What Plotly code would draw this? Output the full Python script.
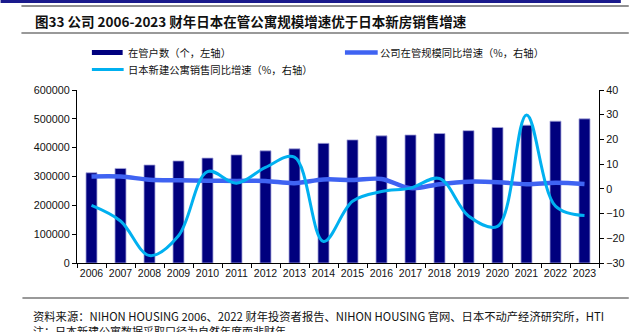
import plotly.graph_objects as go

years = [str(y) for y in range(2006, 2024)]
units = [313000, 328000, 340000, 354000, 364000, 375000, 389000, 396000, 415000,
         427000, 441000, 444000, 449000, 459000, 470000, 478000, 492000, 500000]
company_growth = [5.0, 5.0, 3.7, 3.5, 3.3, 3.2, 3.2, 2.3, 3.8,
                  3.6, 4.0, 0.3, 1.9, 2.9, 2.7, 1.9, 2.5, 2.0]
newsales_growth = [-6.7, -13.0, -27.0, -19.0, 7.0, 2.3, 8.7, 12.8, -21.3,
                   -5.0, -1.1, 0.3, 4.2, -11.0, -15.2, 29.9, -7.0, -10.8]

W, H = 637, 332
L, R, T, B = 77, 603, 90, 263
def px(x):
    return (x - L) / (R - L)
def py(y):
    return (B - y) / (B - T)

NUM = "Liberation Sans, Arial, sans-serif"
CJK = "Noto Sans CJK SC, sans-serif"
NAVY = "#00007E"
BLUE = "#3F63F2"
CYAN = "#00B0F0"

fig = go.Figure()
fig.add_trace(go.Bar(x=years, y=units, name="在管户数（个，左轴）",
                     marker=dict(color=NAVY, line=dict(color="#A8A8DC", width=0.8)),
                     width=0.38, showlegend=False))
fig.add_trace(go.Scatter(x=years, y=company_growth, yaxis="y2", mode="lines",
                         line=dict(color=BLUE, width=4.5, shape="spline", smoothing=1.0),
                         name="公司在管规模同比增速（%，右轴）", showlegend=False))
fig.add_trace(go.Scatter(x=years, y=newsales_growth, yaxis="y2", mode="lines",
                         line=dict(color=CYAN, width=3, shape="spline", smoothing=1.0),
                         name="日本新建公寓销售同比增速（%，右轴）", showlegend=False))

shapes = []
annotations = []
# header lines
shapes.append(dict(type="rect", xref="paper", yref="paper", x0=px(0), x1=px(625), y0=py(0), y1=py(3),
                   fillcolor="#1A1A8C", line=dict(width=0), layer="above"))
shapes.append(dict(type="line", xref="paper", yref="paper", x0=px(21), x1=px(633), y0=py(6), y1=py(6),
                   line=dict(color="#222222", width=1.2)))
shapes.append(dict(type="line", xref="paper", yref="paper", x0=px(21), x1=px(633), y0=py(33), y1=py(33),
                   line=dict(color="#999999", width=2)))
shapes.append(dict(type="line", xref="paper", yref="paper", x0=px(22), x1=px(633), y0=py(298), y1=py(298),
                   line=dict(color="#999999", width=2)))
annotations.append(dict(xref="paper", yref="paper", x=px(33), y=py(21), xanchor="left", yanchor="middle",
                        text="<b>图33 公司 2006-2023 财年日本在管公寓规模增速优于日本新房销售增速</b>",
                        showarrow=False, font=dict(family=CJK, size=13.5, color="#111111")))

# legend (manual)
shapes.append(dict(type="rect", xref="paper", yref="paper", x0=px(92), x1=px(123), y0=py(50), y1=py(55),
                   fillcolor=NAVY, line=dict(width=0)))
shapes.append(dict(type="line", xref="paper", yref="paper", x0=px(347), x1=px(380), y0=py(52.5), y1=py(52.5),
                   line=dict(color=BLUE, width=4.5)))
shapes.append(dict(type="line", xref="paper", yref="paper", x0=px(92), x1=px(124), y0=py(69.5), y1=py(69.5),
                   line=dict(color=CYAN, width=3)))
legend_texts = [("在管户数（个，左轴）", 126, 52.5),
                ("公司在管规模同比增速（%，右轴）", 380, 52.5),
                ("日本新建公寓销售同比增速（%，右轴）", 126, 69.5)]
for t, x, y in legend_texts:
    annotations.append(dict(xref="paper", yref="paper", x=px(x), y=py(y), xanchor="left", yanchor="middle",
                            text=t, showarrow=False, font=dict(family=CJK, size=10.3, color="#111111")))

# footer
annotations.append(dict(xref="paper", yref="paper", x=px(31), y=py(315.5), xanchor="left", yanchor="middle",
                        text="资料来源：NIHON HOUSING 2006、2022 财年投资者报告、NIHON HOUSING 官网、日本不动产经济研究所，HTI",
                        showarrow=False, font=dict(family=CJK, size=11.3, color="#111111")))
annotations.append(dict(xref="paper", yref="paper", x=px(31), y=py(331), xanchor="left", yanchor="middle",
                        text="注：日本新建公寓数据采取口径为自然年度而非财年",
                        showarrow=False, font=dict(family=CJK, size=11, color="#111111")))

fig.update_layout(
    width=W, height=H,
    margin=dict(l=L, r=W - R, t=T, b=H - B, pad=0),
    paper_bgcolor="white", plot_bgcolor="white",
    showlegend=False,
    xaxis=dict(type="category", range=[-0.5, 17.5], showline=True, linecolor="black", linewidth=1.3,
               ticks="outside", tickson="boundaries", ticklen=4, tickcolor="black", tickwidth=1.2,
               tickangle=0, tickfont=dict(family=NUM, size=10.5, color="#111111"),
               showgrid=False, zeroline=False),
    yaxis=dict(range=[0, 600000], dtick=100000, showline=True, linecolor="black", linewidth=1.3,
               ticks="outside", ticklen=4, tickcolor="black", tickwidth=1.2, showgrid=False, zeroline=False,
               tickformat="d", tickfont=dict(family=NUM, size=10.8, color="#111111")),
    yaxis2=dict(range=[-30, 40], dtick=10, overlaying="y", side="right", showline=True, linecolor="black",
                linewidth=1.3, ticks="outside", ticklen=4, tickcolor="black", tickwidth=1.2,
                showgrid=False, zeroline=False, tickfont=dict(family=NUM, size=10.8, color="#111111")),
    shapes=shapes, annotations=annotations,
)

fig.write_html("out.html")
